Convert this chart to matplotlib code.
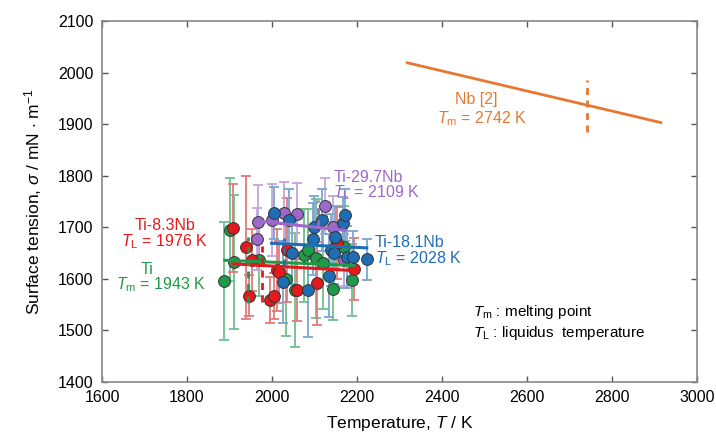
import numpy as np
import matplotlib
matplotlib.use("Agg")
import matplotlib.pyplot as plt

plt.rcParams['font.family'] = ['Liberation Sans', 'DejaVu Sans']
plt.rcParams['mathtext.fontset'] = 'custom'
plt.rcParams['mathtext.rm'] = 'Liberation Sans'
plt.rcParams['mathtext.it'] = 'Liberation Sans:italic'

############ data ##################
# Ti
ti_T = [1887, 1900, 1911, 1970, 2033, 2054, 2076, 2085, 2104, 2119, 2144, 2169, 2188]
ti_s = [1596, 1695, 1632, 1637, 1599, 1578, 1646, 1655, 1640, 1631, 1580, 1662, 1598]
ti_e = [115, 100, 130, 70, 110, 110, 90, 80, 115, 90, 60, 80, 70]
# Ti-8.3Nb
nb8_T = [1909, 1938, 1946, 1952, 1995, 2005, 2012, 2017, 2036, 2058, 2105, 2152, 2193]
nb8_s = [1698, 1661, 1567, 1637, 1559, 1567, 1617, 1614, 1656, 1578, 1591, 1669, 1619]
nb8_e = [85, 138, 40, 60, 45, 45, 80, 60, 100, 60, 80, 70, 60]
# Ti-18.1Nb
nb18_T = [2005, 2025, 2041, 2046, 2084, 2096, 2099, 2118, 2134, 2138, 2145, 2147,
          2168, 2172, 2176, 2190, 2224]
nb18_s = [1728, 1594, 1714, 1650, 1578, 1677, 1700, 1714, 1606, 1656, 1650, 1681,
          1708, 1724, 1642, 1643, 1638]
nb18_e = [50, 80, 60, 60, 90, 70, 60, 60, 80, 70, 60, 60, 50, 50, 60, 50, 40]
# Ti-29.7Nb
nb29_T = [1965, 1968, 2001, 2029, 2058, 2125, 2143, 2169]
nb29_s = [1677, 1711, 1714, 1727, 1726, 1741, 1700, 1637]
nb29_e = [60, 70, 70, 60, 60, 55, 60, 50]

# linear fits (end points)
fit_ti_T, fit_ti_s = [1889, 2193], [1636, 1626]
fit_nb8_T, fit_nb8_s = [1909, 2193], [1629, 1616]
fit_nb18_T, fit_nb18_s = [1999, 2223], [1669, 1660]
fit_nb29_T, fit_nb29_s = [1968, 2172], [1712, 1694]
# Nb [2]
nb_T, nb_s = [2318, 2915], [2019, 1903]

# melting / liquidus markers
tm_ti, tm_ti_s = 1943, [1553, 1682]
tl_nb8, tl_nb8_s = 1976, [1556, 1663]
tl_nb18, tl_nb18_s = 2028, [1625, 1680]
tl_nb29, tl_nb29_s = 2109, [1701, 1753]
tm_nb, tm_nb_s = 2742, [1885, 1985]

c_ti, c_ti_l = '#1e9a48', '#6fbf8c'
c_8, c_8_l = '#e3191c', '#e07a7a'
c_18, c_18_l = '#1f6db5', '#7aa6cf'
c_29, c_29_l = '#9c68c9', '#c3a5de'
c_nb = '#e8782f'

############ plot ##################
fig = plt.figure(figsize=(7.16, 4.37), dpi=100)
ax = fig.add_axes([0.1425, 0.1259, 0.831, 0.8261])

series = [(ti_T, ti_s, ti_e, c_ti, c_ti_l),
          (nb8_T, nb8_s, nb8_e, c_8, c_8_l),
          (nb29_T, nb29_s, nb29_e, c_29, c_29_l),
          (nb18_T, nb18_s, nb18_e, c_18, c_18_l)]

for T, s, e, c, cl in series:
    ax.errorbar(T, s, yerr=e, fmt='none', ecolor=cl, elinewidth=1.3,
                capsize=3.5, capthick=1.3, zorder=2)

for T, s, e, c, cl in series:
    ax.plot(T, s, 'o', color=c, markersize=8.5, markeredgecolor='#333333',
            markeredgewidth=0.7, zorder=3)

ax.plot(fit_nb29_T, fit_nb29_s, color=c_29, lw=2.2, zorder=4)
ax.plot(fit_nb18_T, fit_nb18_s, color=c_18, lw=2.2, zorder=4)
ax.plot(fit_ti_T, fit_ti_s, color=c_ti, lw=2.2, zorder=4)
ax.plot(fit_nb8_T, fit_nb8_s, color=c_8, lw=2.2, zorder=4)
ax.plot(nb_T, nb_s, color=c_nb, lw=2, zorder=4)

for t, ss, c in [(tm_ti, tm_ti_s, c_ti), (tl_nb8, tl_nb8_s, c_8),
                 (tl_nb18, tl_nb18_s, c_18), (tl_nb29, tl_nb29_s, c_29),
                 (tm_nb, tm_nb_s, c_nb)]:
    ax.plot([t, t], ss, color=c, lw=2, ls=(0, (2.5, 2)), zorder=4)

fs = 11.5
ax.text(1748, 1704, 'Ti-8.3Nb', color=c_8, fontsize=fs, ha='center', va='center')
ax.text(1748, 1672, r'$T_{\mathrm{L}}$ = 1976 K', color=c_8, fontsize=fs, ha='center', va='center')
ax.text(1706, 1619, 'Ti', color=c_ti, fontsize=fs, ha='center', va='center')
ax.text(1739, 1588, r'$T_{\mathrm{m}}$ = 1943 K', color=c_ti, fontsize=fs, ha='center', va='center')
ax.text(2144, 1797, 'Ti-29.7Nb', color=c_29, fontsize=fs, ha='left', va='center')
ax.text(2144, 1767, r'$T_{\mathrm{L}}$ = 2109 K', color=c_29, fontsize=fs, ha='left', va='center')
ax.text(2242, 1671, 'Ti-18.1Nb', color=c_18, fontsize=fs, ha='left', va='center')
ax.text(2242, 1640, r'$T_{\mathrm{L}}$ = 2028 K', color=c_18, fontsize=fs, ha='left', va='center')
ax.text(2481, 1947, 'Nb [2]', color=c_nb, fontsize=fs, ha='center', va='center')
ax.text(2495, 1910, r'$T_{\mathrm{m}}$ = 2742 K', color=c_nb, fontsize=fs, ha='center', va='center')
ax.text(2473, 1536, r'$T_{\mathrm{m}}$ : melting point', color='black', fontsize=11,
        ha='left', va='center')
ax.text(2473, 1495, r'$T_{\mathrm{L}}$ : liquidus  temperature', color='black', fontsize=11,
        ha='left', va='center')

ax.set_xlim(1600, 3000)
ax.set_ylim(1400, 2100)
ax.set_xticks(np.arange(1600, 3001, 200))
ax.set_yticks(np.arange(1400, 2101, 100))
ax.tick_params(direction='in', top=True, right=True, length=4, width=1,
               color='#555555', labelsize=11.5, pad=6)
for sp in ax.spines.values():
    sp.set_color('#888888')
    sp.set_linewidth(1.2)

ax.set_xlabel(r'Temperature, $T$ / K', fontsize=12.5, labelpad=6)
ax.set_ylabel(r'Surface tension, $\sigma$ / mN $\cdot$ m$^{-1}$', fontsize=12.5, labelpad=10)

plt.savefig('out.png', dpi=100)
